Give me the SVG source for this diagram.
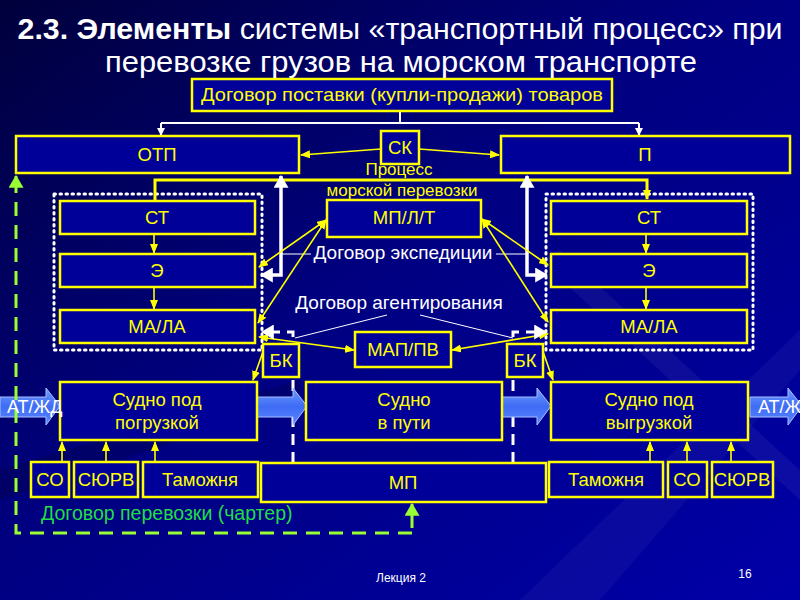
<svg xmlns="http://www.w3.org/2000/svg" width="800" height="600" viewBox="0 0 800 600">
<defs>
<linearGradient id="bg" x1="0" y1="0" x2="1" y2="1">
<stop offset="0" stop-color="#00003c"/>
<stop offset="0.45" stop-color="#000080"/>
<stop offset="1" stop-color="#0000a8"/>
</linearGradient>
<linearGradient id="blk" x1="0" y1="0" x2="0" y2="1">
<stop offset="0" stop-color="#6f9bff"/>
<stop offset="0.5" stop-color="#3f6cf5"/>
<stop offset="1" stop-color="#5a86ff"/>
</linearGradient>
<marker id="ya" viewBox="0 0 10 8" markerWidth="10" markerHeight="8" refX="9" refY="4" orient="auto-start-reverse" markerUnits="userSpaceOnUse">
<path d="M0,0 L10,4 L0,8 z" fill="#ffff00"/>
</marker>
<marker id="wa" viewBox="0 0 12 14" markerWidth="13" markerHeight="15" refX="11" refY="7" orient="auto-start-reverse" markerUnits="userSpaceOnUse">
<path d="M0,0 L12,7 L0,14 z" fill="#ffffff"/>
</marker>
<marker id="ws" viewBox="0 0 8 8" markerWidth="8" markerHeight="8" refX="7" refY="4" orient="auto" markerUnits="userSpaceOnUse">
<path d="M0,0 L8,4 L0,8 z" fill="#ffffff"/>
</marker>
<marker id="ga" viewBox="0 0 12 14" markerWidth="13" markerHeight="15" refX="11" refY="7" orient="auto" markerUnits="userSpaceOnUse">
<path d="M0,0 L12,7 L0,14 z" fill="#99ff33"/>
</marker>
<style>
.box{fill:#000099;stroke:#ffff00;stroke-width:2.5}
.t{font-family:"Liberation Sans",Arial,sans-serif;fill:#ffff00;font-size:18.5px;text-anchor:middle}
.w{font-family:"Liberation Sans",Arial,sans-serif;fill:#ffffff;font-size:19px;text-anchor:middle}
.yl{stroke:#ffff00;stroke-width:1.6;fill:none}
.grp{fill:none;stroke:#ffffff;stroke-width:3;stroke-dasharray:1.5 4.5;stroke-linecap:round}
.blk{fill:url(#blk);stroke:#a8c0ff;stroke-width:1}
</style>
</defs>
<rect width="800" height="600" fill="url(#bg)"/>
<polygon points="520,600 800,330 800,370 600,600" fill="#ffffff" opacity="0.04"/>
<polygon points="560,250 800,470 800,500 540,260" fill="#ffffff" opacity="0.05"/>
<polygon points="0,470 300,380 300,400 0,500" fill="#000030" opacity="0.25"/>

<g id="title">
<text x="400" y="39" font-family="'Liberation Sans',Arial,sans-serif" font-size="29" fill="#ffffff" text-anchor="middle" textLength="765" lengthAdjust="spacingAndGlyphs"><tspan font-weight="bold">2.3. Элементы</tspan> системы «транспортный процесс» при</text>
<text x="401" y="72" font-family="'Liberation Sans',Arial,sans-serif" font-size="29" fill="#ffffff" text-anchor="middle" textLength="592" lengthAdjust="spacingAndGlyphs">перевозке грузов на морском транспорте</text>
</g>

<g id="groups">
<rect class="grp" x="54" y="194" width="208" height="156"/>
<rect class="grp" x="546" y="194" width="207" height="156"/>
</g>

<g id="connectors">
<path d="M400,111 L400,123 M161,123 L639,123" stroke="#ffffff" stroke-width="2" fill="none"/>
<path d="M161,123 L161,135" stroke="#ffffff" stroke-width="2" fill="none" marker-end="url(#ws)"/>
<path d="M639,123 L639,135" stroke="#ffffff" stroke-width="2" fill="none" marker-end="url(#ws)"/>
<path class="yl" d="M381,149 L301,155" marker-end="url(#ya)"/>
<path class="yl" d="M419,149 L499,155" marker-end="url(#ya)"/>
<path d="M155,201 L155,180 L647,180 L647,199" stroke="#ffff00" stroke-width="3" fill="none" marker-end="url(#ya)"/>
<path d="M281,176 L281,275 L261,275" stroke="#ffffff" stroke-width="3.5" fill="none" marker-start="url(#wa)" marker-end="url(#wa)"/>
<path d="M527,176 L527,275 L547,275" stroke="#ffffff" stroke-width="3.5" fill="none" marker-start="url(#wa)" marker-end="url(#wa)"/>
<path d="M281,254 L311,254 M496,254 L527,254" stroke="#ffffff" stroke-width="1" fill="none"/>
<path class="yl" d="M154,235 L154,253" marker-end="url(#ya)"/>
<path class="yl" d="M154,288 L154,309" marker-end="url(#ya)"/>
<path class="yl" d="M646,235 L646,253" marker-end="url(#ya)"/>
<path class="yl" d="M646,288 L646,309" marker-end="url(#ya)"/>
<path class="yl" d="M326,220 L259,267" marker-start="url(#ya)" marker-end="url(#ya)"/>
<path class="yl" d="M326,220 L258,323" marker-start="url(#ya)" marker-end="url(#ya)"/>
<path class="yl" d="M482,219 L548,265" marker-start="url(#ya)" marker-end="url(#ya)"/>
<path class="yl" d="M482,219 L548,322" marker-start="url(#ya)" marker-end="url(#ya)"/>
<path class="yl" d="M259,337 L354,350" marker-start="url(#ya)" marker-end="url(#ya)"/>
<path class="yl" d="M452,350 L548,334" marker-start="url(#ya)" marker-end="url(#ya)"/>
<path class="yl" d="M265,346 L253,380" marker-end="url(#ya)"/>
<path class="yl" d="M541,346 L553,380" marker-end="url(#ya)"/>
<path d="M293,463 L293,332 L262,332" stroke="#ffffff" stroke-width="3" stroke-dasharray="11 7" fill="none" marker-end="url(#wa)"/>
<path d="M513,463 L513,332 L546,332" stroke="#ffffff" stroke-width="3" stroke-dasharray="11 7" fill="none" marker-end="url(#wa)"/>
<path d="M387,315 L295,338 M420,315 L513,338" stroke="#ffffff" stroke-width="1" fill="none"/>
<polygon class="blk" points="0,397 46,397 46,388 60,406 46,425 46,417 0,417"/>
<polygon class="blk" points="257,397 293,397 293,388 307,406 293,425 293,417 257,417"/>
<polygon class="blk" points="502,397 537,397 537,388 551,406 537,425 537,417 502,417"/>
<polygon class="blk" points="750,397 788,397 788,388 802,406 788,425 788,417 750,417"/>
<path class="yl" d="M62,461 L62,442" marker-end="url(#ya)"/>
<path class="yl" d="M106,461 L106,442" marker-end="url(#ya)"/>
<path class="yl" d="M155,461 L155,442" marker-end="url(#ya)"/>
<path class="yl" d="M650,461 L650,442" marker-end="url(#ya)"/>
<path class="yl" d="M687,461 L687,442" marker-end="url(#ya)"/>
<path class="yl" d="M731,461 L731,442" marker-end="url(#ya)"/>
<path d="M412,533 L16,533 L16,192" stroke="#99ff33" stroke-width="3" stroke-dasharray="14 9" fill="none"/>
<path d="M16,192 L16,176" stroke="#99ff33" stroke-width="3" fill="none" marker-end="url(#ga)"/>
<path d="M412,528 L412,504" stroke="#99ff33" stroke-width="3" fill="none" marker-end="url(#ga)"/>
</g>

<g id="n-dogovor"><rect class="box" x="192" y="79" width="420" height="32"/><text class="t" x="402" y="101" textLength="402" lengthAdjust="spacingAndGlyphs">Договор поставки (купли-продажи)  товаров</text></g>
<g id="n-otp"><rect class="box" x="16" y="136" width="283" height="37"/><text class="t" x="157" y="161">ОТП</text></g>
<g id="n-p"><rect class="box" x="501" y="136" width="289" height="37"/><text class="t" x="645" y="161">П</text></g>
<g id="n-sk"><rect class="box" x="381" y="131" width="38" height="33"/><text class="t" x="400" y="154">СК</text></g>
<g id="l-process"><text class="t" x="399" y="175" style="font-size:17px">Процесс</text><text class="t" x="402" y="196" style="font-size:17px">морской перевозки</text></g>

<g id="n-st-l"><rect class="box" x="60" y="201" width="195" height="33"/><text class="t" x="157" y="224">СТ</text></g>
<g id="n-e-l"><rect class="box" x="60" y="254" width="195" height="33"/><text class="t" x="157" y="277">Э</text></g>
<g id="n-mala-l"><rect class="box" x="60" y="310" width="195" height="33"/><text class="t" x="157" y="333">МА/ЛА</text></g>
<g id="n-st-r"><rect class="box" x="551" y="201" width="196" height="33"/><text class="t" x="649" y="224">СТ</text></g>
<g id="n-e-r"><rect class="box" x="551" y="254" width="196" height="33"/><text class="t" x="649" y="277">Э</text></g>
<g id="n-mala-r"><rect class="box" x="551" y="310" width="196" height="33"/><text class="t" x="649" y="333">МА/ЛА</text></g>

<g id="n-mplt"><rect class="box" x="327" y="200" width="154" height="37"/><text class="t" x="404" y="224">МП/Л/Т</text></g>
<g id="l-exp"><text class="w" x="403" y="259">Договор экспедиции</text></g>
<g id="l-agent"><text class="w" x="399" y="309">Договор агентирования</text></g>
<g id="n-mappv"><rect class="box" x="355" y="332" width="96" height="35"/><text class="t" x="403" y="356">МАП/ПВ</text></g>
<g id="n-bk-l"><rect class="box" x="263" y="344" width="36" height="33"/><text class="t" x="281" y="367">БК</text></g>
<g id="n-bk-r"><rect class="box" x="507" y="344" width="36" height="33"/><text class="t" x="525" y="367">БК</text></g>

<g id="n-ship-load"><rect class="box" x="60" y="382" width="197" height="58"/><text class="t" x="157" y="406">Судно  под</text><text class="t" x="157" y="429">погрузкой</text></g>
<g id="n-ship-way"><rect class="box" x="306" y="382" width="196" height="58"/><text class="t" x="404" y="406">Судно</text><text class="t" x="404" y="429">в пути</text></g>
<g id="n-ship-unload"><rect class="box" x="551" y="382" width="197" height="58"/><text class="t" x="649" y="406">Судно  под</text><text class="t" x="649" y="429">выгрузкой</text></g>
<g id="l-atzd"><text x="7" y="413" font-family="'Liberation Sans',Arial,sans-serif" font-size="18" fill="#ffffff">АТ/ЖД</text><text x="758" y="413" font-family="'Liberation Sans',Arial,sans-serif" font-size="18" fill="#ffffff">АТ/Ж</text></g>

<g id="n-so-l"><rect class="box" x="31" y="462" width="38" height="35"/><text class="t" x="50" y="486">СО</text></g>
<g id="n-syurv-l"><rect class="box" x="74" y="462" width="64" height="35"/><text class="t" x="106" y="486">СЮРВ</text></g>
<g id="n-tam-l"><rect class="box" x="143" y="462" width="115" height="35"/><text class="t" x="200" y="486">Таможня</text></g>
<g id="n-mp"><rect class="box" x="261" y="463" width="285" height="39"/><text class="t" x="403" y="489">МП</text></g>
<g id="n-tam-r"><rect class="box" x="549" y="462" width="114" height="35"/><text class="t" x="606" y="486">Таможня</text></g>
<g id="n-so-r"><rect class="box" x="668" y="462" width="39" height="35"/><text class="t" x="687" y="486">СО</text></g>
<g id="n-syurv-r"><rect class="box" x="712" y="462" width="61" height="35"/><text class="t" x="742" y="486">СЮРВ</text></g>

<g id="l-charter"><text x="41" y="520" font-family="'Liberation Sans',Arial,sans-serif" font-size="19.5" fill="#22dd44">Договор перевозки (чартер)</text></g>
<g id="footer">
<text x="401" y="582" font-family="'Liberation Sans',Arial,sans-serif" font-size="12" fill="#ffffff" text-anchor="middle">Лекция 2</text>
<text x="745" y="578" font-family="'Liberation Sans',Arial,sans-serif" font-size="12" fill="#ffffff" text-anchor="middle">16</text>
</g>
</svg>
